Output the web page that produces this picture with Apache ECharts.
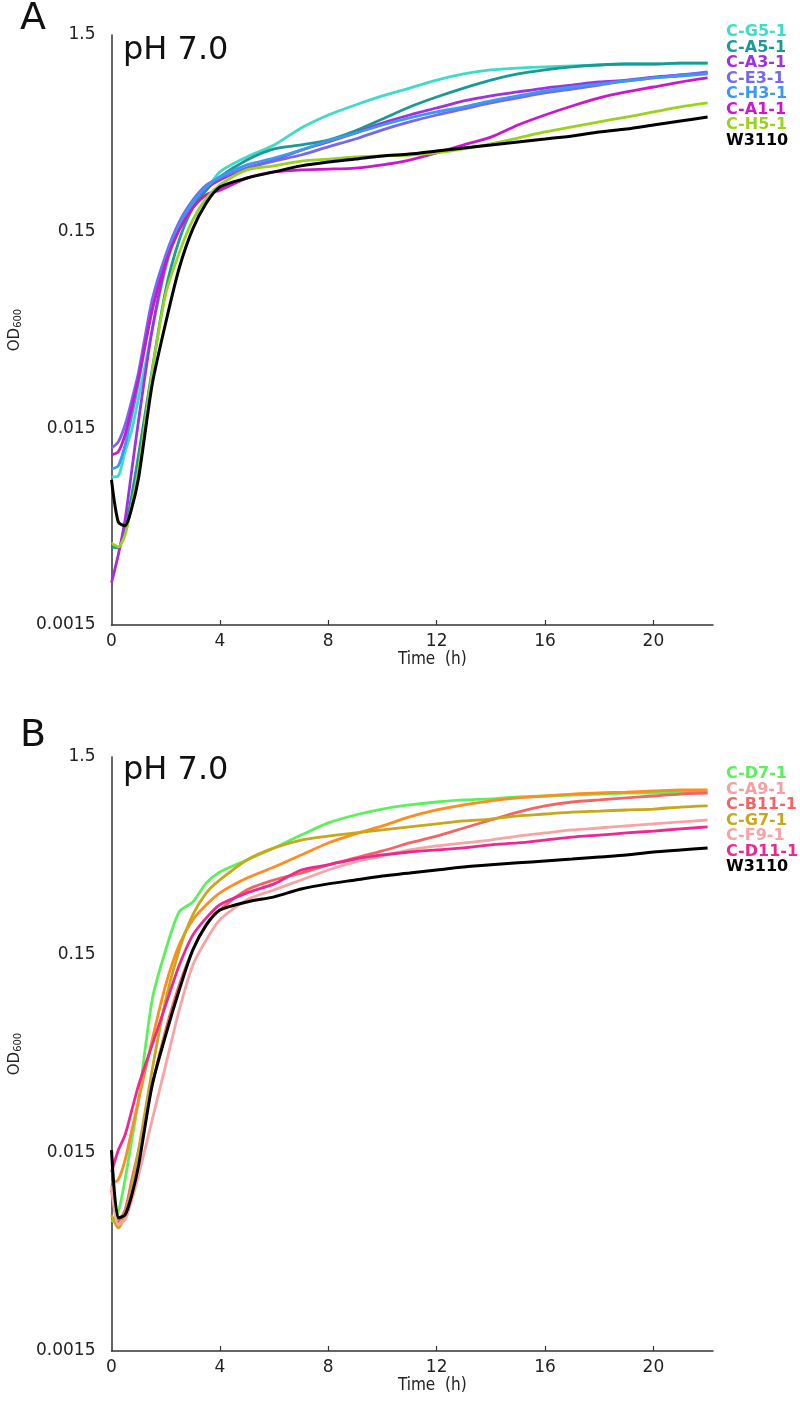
<!DOCTYPE html>
<html>
<head>
<meta charset="utf-8">
<script src="https://cdn.jsdelivr.net/npm/echarts@6/dist/echarts.min.js"></script>
<style>
html,body{margin:0;padding:0;background:#fff;}
#chart{width:800px;height:1409px;}
</style>
</head>
<body>
<div id="chart"></div>
<script>
// ---- data (time in h, OD600 values) ----
const T = [0,0.25,0.5,0.75,1,1.5,2,2.5,3,3.5,4,5,6,7,8,9,10,11,12,13,14,15,16,17,18,19,20,21,22];
const X_TICKS = [0,4,8,12,16,20];
const Y_TICKS = ['0.0015','0.015','0.15','1.5'];
const Y_BASE = 0.0015;

// Panel A
const A_NAMES = ['C-G5-1','C-A5-1','C-A3-1','C-E3-1','C-H3-1','C-A1-1','C-H5-1','W3110'];
const A_G5 = [0.00849,0.00859,0.0114,0.0147,0.0214,0.0475,0.0980,0.157,0.205,0.244,0.302,0.360,0.414,0.505,0.588,0.661,0.735,0.806,0.885,0.951,0.996,1.019,1.032,1.044,1.056,1.068,1.068,1.080,1.080];
const A_A5 = [0.00374,0.00370,0.00457,0.00688,0.0110,0.0297,0.0758,0.136,0.198,0.244,0.285,0.347,0.395,0.414,0.438,0.488,0.561,0.646,0.726,0.806,0.885,0.951,0.996,1.032,1.056,1.068,1.068,1.080,1.080];
const A_A3 = [0.00246,0.00341,0.00513,0.00922,0.0165,0.0475,0.1016,0.162,0.212,0.250,0.275,0.316,0.347,0.390,0.429,0.476,0.535,0.588,0.638,0.693,0.735,0.770,0.806,0.835,0.865,0.885,0.917,0.939,0.962];
const A_E3 = [0.0119,0.0128,0.0156,0.0209,0.0290,0.0675,0.114,0.168,0.217,0.259,0.281,0.316,0.343,0.368,0.405,0.444,0.494,0.542,0.588,0.631,0.677,0.718,0.761,0.797,0.835,0.876,0.907,0.939,0.973];
const A_H3 = [0.00933,0.00966,0.0123,0.0175,0.0258,0.060,0.108,0.162,0.212,0.253,0.285,0.328,0.355,0.390,0.434,0.476,0.523,0.568,0.609,0.646,0.693,0.735,0.779,0.816,0.845,0.876,0.907,0.928,0.951];
const A_A1 = [0.0110,0.0114,0.0139,0.0191,0.0271,0.060,0.105,0.153,0.198,0.231,0.244,0.281,0.302,0.309,0.312,0.316,0.328,0.347,0.377,0.414,0.454,0.523,0.588,0.653,0.718,0.770,0.816,0.865,0.907];
const A_H5 = [0.00392,0.00374,0.00431,0.00612,0.00922,0.0290,0.0723,0.117,0.172,0.222,0.259,0.309,0.324,0.343,0.351,0.360,0.364,0.368,0.377,0.395,0.419,0.449,0.482,0.511,0.542,0.574,0.609,0.646,0.677];
const A_W = [0.00821,0.00501,0.00479,0.00591,0.00840,0.0250,0.0516,0.0980,0.155,0.210,0.253,0.281,0.302,0.324,0.339,0.351,0.364,0.372,0.386,0.400,0.414,0.429,0.444,0.460,0.482,0.499,0.523,0.548,0.574];

// Panel B
const B_NAMES = ['C-D7-1','C-A9-1','C-B11-1','C-G7-1','C-F9-1','C-D11-1','W3110'];
const B_D7 = [0.00673,0.00756,0.0110,0.0175,0.0278,0.0890,0.159,0.248,0.278,0.347,0.394,0.453,0.521,0.605,0.697,0.764,0.819,0.859,0.889,0.910,0.921,0.942,0.953,0.964,0.975,0.987,0.987,0.998,0.998];
const B_A9 = [0.0106,0.0110,0.0138,0.0196,0.0278,0.0559,0.106,0.169,0.226,0.269,0.309,0.367,0.417,0.480,0.552,0.613,0.673,0.747,0.810,0.859,0.900,0.932,0.953,0.975,0.987,0.998,1.010,1.022,1.022];
const B_B11 = [0.00975,0.00673,0.00773,0.0110,0.0155,0.0330,0.0627,0.106,0.159,0.213,0.253,0.320,0.359,0.389,0.428,0.464,0.503,0.552,0.598,0.657,0.721,0.791,0.849,0.889,0.910,0.932,0.953,0.975,0.987];
const B_G7 = [0.00729,0.00627,0.00729,0.0103,0.0155,0.0394,0.0890,0.159,0.239,0.309,0.359,0.453,0.521,0.571,0.598,0.620,0.642,0.665,0.689,0.713,0.729,0.756,0.773,0.791,0.800,0.810,0.819,0.838,0.849];
const B_F9 = [0.0103,0.00649,0.00689,0.00869,0.0116,0.0220,0.0417,0.0791,0.133,0.179,0.226,0.285,0.320,0.359,0.403,0.443,0.474,0.509,0.533,0.552,0.571,0.598,0.620,0.642,0.657,0.673,0.689,0.705,0.721];
const B_D11 = [0.0120,0.0155,0.0185,0.0247,0.0330,0.0526,0.0838,0.133,0.189,0.231,0.269,0.309,0.343,0.403,0.428,0.458,0.480,0.497,0.509,0.521,0.540,0.552,0.571,0.591,0.605,0.620,0.634,0.650,0.665];
const B_W = [0.0155,0.00705,0.00729,0.00921,0.0130,0.0330,0.0591,0.0998,0.159,0.213,0.253,0.278,0.295,0.323,0.343,0.359,0.376,0.389,0.403,0.417,0.428,0.438,0.448,0.458,0.469,0.480,0.497,0.509,0.521];

// ---- styling ----
const A_LINE_COLORS = ['#3edcc8','#1a9a94','#a030e0','#7468ee','#3c98f0','#cc18cc','#9ad21e','#000000'];
const A_TEXT_COLORS = A_LINE_COLORS;
const B_LINE_COLORS = ['#5cf05c','#ff8c1e','#f46464','#c8a818','#f8a4a4','#ee2890','#000000'];
const B_TEXT_COLORS = ['#5cf05c','#f4a0a0','#f46464','#c8a818','#f8a4a4','#ee2890','#000000'];

const FONT = '"DejaVu Sans", Arial, sans-serif';
const A_DATA = [A_G5,A_A5,A_A3,A_E3,A_H3,A_A1,A_H5,A_W];
const B_DATA = [B_D7,B_A9,B_B11,B_G7,B_F9,B_D11,B_W];

function pts(arr){ return T.map((t,i)=>[t, Math.log10(arr[i]/Y_BASE)]); }

function makeSeries(names, data, colors, idx){
  return names.map((n,i)=>({
    name:n, type:'line', xAxisIndex:idx, yAxisIndex:idx,
    data: pts(data[i]), showSymbol:false, smooth:0.25,
    lineStyle:{color:colors[i], width: n==='W3110'?3:2.8},
    itemStyle:{color:colors[i]}, animation:false, z: 2 + i
  }));
}

function legend(names, colors, top){
  return {
    orient:'vertical', left:721, top:top, padding:0, itemGap:-0.5,
    icon:'rect', itemWidth:0, itemHeight:10,
    itemStyle:{opacity:0}, lineStyle:{opacity:0},
    selectedMode:false,
    textStyle:{fontFamily:FONT, fontSize:16, fontWeight:'bold', lineHeight:16},
    data: names.map((n,i)=>({name:n, textStyle:{color:colors[i]}}))
  };
}

function xAx(gi){
  return {
    type:'value', gridIndex:gi, min:0, max:22.2, interval:4,
    axisLine:{show:true, onZero:false, lineStyle:{color:'#333', width:1.5}},
    axisTick:{show:true, inside:true, length:5, lineStyle:{color:'#333', width:1.2},
      customValues: X_TICKS.slice(1)},
    axisLabel:{fontFamily:FONT, fontSize:17, color:'#222', margin:8,
      customValues: X_TICKS, formatter: v=>String(v)},
    splitLine:{show:false},
    name:'Time  (h)', nameLocation:'middle', nameGap:22,
    nameTextStyle:{fontFamily:'"Liberation Sans Narrow","DejaVu Sans Condensed",Arial,sans-serif', fontSize:17, color:'#222', padding:[0,0,0,40]}
  };
}

function yAx(gi){
  return {
    type:'value', gridIndex:gi, min:0, max:3, interval:1,
    axisLine:{show:true, lineStyle:{color:'#333', width:1.5}},
    axisTick:{show:false},
    axisLabel:{fontFamily:FONT, fontSize:17, color:'#222', margin:16,
      formatter: v=>Y_TICKS[Math.round(v)]},
    splitLine:{show:false},
    name:'{od|OD}{sub|600}', nameLocation:'middle', nameGap:88, nameRotate:90,
    nameTextStyle:{rich:{
      od:{fontFamily:FONT, fontSize:15, color:'#222'},
      sub:{fontFamily:FONT, fontSize:10, color:'#222', padding:[6,0,0,0]}
    }}
  };
}

const chart = echarts.init(document.getElementById('chart'), null, {renderer:'canvas'});
chart.setOption({
  backgroundColor:'#ffffff',
  animation:false,
  grid:[
    {left:107, top:35, width:606, height:590},
    {left:107, top:757, width:606, height:594}
  ],
  xAxis:[xAx(0), xAx(1)],
  yAxis:[yAx(0), yAx(1)],
  legend:[legend(A_NAMES, A_TEXT_COLORS, 24), legend(B_NAMES, B_TEXT_COLORS, 766)],
  graphic:[
    {type:'text', left:20, top:0, style:{text:'A', font:'38px '+FONT, fill:'#111'}},
    {type:'text', left:20, top:717, style:{text:'B', font:'38px '+FONT, fill:'#111'}},
    {type:'text', left:123, top:35, style:{text:'pH 7.0', font:'32px '+FONT, fill:'#111'}},
    {type:'text', left:123, top:755, style:{text:'pH 7.0', font:'32px '+FONT, fill:'#111'}}
  ],
  series:[].concat(
    makeSeries(A_NAMES, A_DATA, A_LINE_COLORS, 0),
    makeSeries(B_NAMES, B_DATA, B_LINE_COLORS, 1)
  )
});
</script>
</body>
</html>
